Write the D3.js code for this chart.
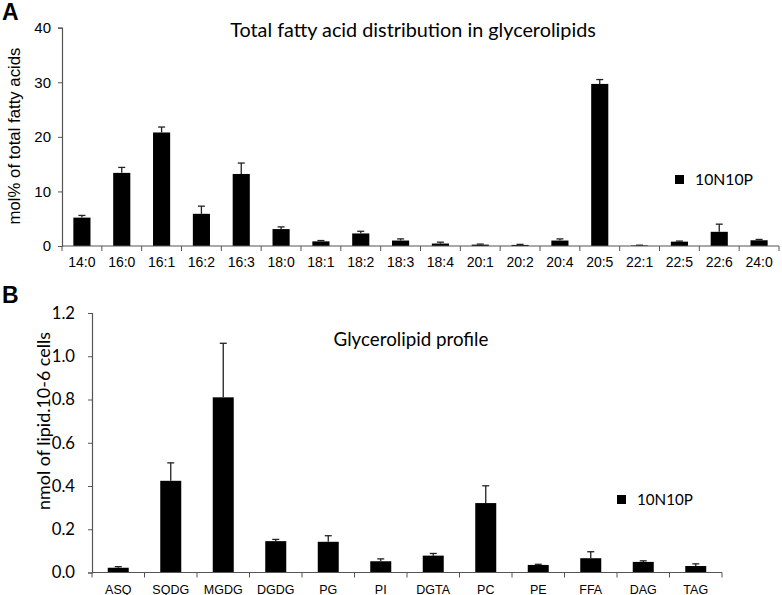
<!DOCTYPE html>
<html><head><meta charset="utf-8">
<script src="https://cdn.jsdelivr.net/npm/d3@7"></script>
<style>
html,body{margin:0;padding:0;background:#fff;}
svg{display:block;}
.arial{font-family:"Liberation Sans",Arial,sans-serif;}
.cal{font-family:Lato,"Noto Sans",sans-serif;}
</style></head><body>
<svg id="chart" width="782" height="595"></svg>
<script>
// ---- Data ----
const faCategories = ["14:0","16:0","16:1","16:2","16:3","18:0","18:1","18:2","18:3","18:4","20:1","20:2","20:4","20:5","22:1","22:5","22:6","24:0"];
const faValues = [5.2,13.4,20.8,5.9,13.2,3.1,0.85,2.3,1.0,0.45,0.25,0.2,1.0,29.7,0.1,0.8,2.6,1.05];
const faErrors = [0.4,1.0,1.0,1.4,2.0,0.4,0.15,0.4,0.3,0.25,0.1,0.1,0.3,0.8,0.05,0.1,1.4,0.15];
const faTicks = [0,10,20,30,40];

const lipidCategories = ["ASQ","SQDG","MGDG","DGDG","PG","PI","DGTA","PC","PE","FFA","DAG","TAG"];
const lipidValues = [0.022,0.424,0.81,0.145,0.142,0.052,0.078,0.321,0.035,0.066,0.049,0.030];
const lipidErrors = [0.005,0.083,0.25,0.008,0.028,0.011,0.010,0.080,0.003,0.030,0.005,0.010];
const lipidTicks = [0,0.2,0.4,0.6,0.8,1.0,1.2];

const seriesName = "10N10P";

const svg = d3.select("#chart");
const axisColor = "#555";

function fitWidth(sel, target){
  const base = parseFloat(sel.attr("font-size"));
  const len = sel.node().getComputedTextLength();
  sel.attr("font-size", base*target/len);
}
function fitAll(sel, sample, target){
  // scale a group of text elements by the ratio measured on one sample
  const base = parseFloat(sample.attr("font-size"));
  const len = sample.node().getComputedTextLength();
  sel.attr("font-size", base*target/len);
}

function panel(opts){
  const g = svg.append("g");
  const x = d3.scaleBand().domain(opts.cats).range(opts.xRange)
    .paddingInner(opts.pad).paddingOuter(opts.pad/2);
  const y = d3.scaleLinear().domain(opts.yDomain).range(opts.yRange);
  const y0 = y(0);

  // bars
  g.selectAll("rect.bar").data(opts.cats).enter().append("rect")
    .attr("x", d=>x(d)).attr("width", x.bandwidth())
    .attr("y", (d,i)=>y(opts.vals[i]))
    .attr("height", (d,i)=>y0 - y(opts.vals[i]))
    .attr("fill","#000");

  // error bars
  const eg = g.selectAll("g.err").data(opts.cats).enter().append("g");
  eg.append("line")
    .attr("x1", d=>x(d)+x.bandwidth()/2).attr("x2", d=>x(d)+x.bandwidth()/2)
    .attr("y1", (d,i)=>y(opts.vals[i])).attr("y2",(d,i)=>y(opts.vals[i]+opts.errs[i]))
    .attr("stroke","#222").attr("stroke-width",1.3);
  eg.append("line")
    .attr("x1", d=>x(d)+x.bandwidth()/2-3.5).attr("x2", d=>x(d)+x.bandwidth()/2+3.5)
    .attr("y1", (d,i)=>y(opts.vals[i]+opts.errs[i])).attr("y2",(d,i)=>y(opts.vals[i]+opts.errs[i]))
    .attr("stroke","#222").attr("stroke-width",1.3);

  // y axis
  const ya = g.append("g").attr("transform",`translate(${opts.xRange[0]},0)`)
    .call(d3.axisLeft(y).tickValues(opts.yTicks).tickFormat(opts.yFmt).tickSize(4).tickPadding(opts.yPad));
  ya.select(".domain").attr("stroke",axisColor).attr("stroke-width",1.2);
  ya.selectAll(".tick line").attr("stroke",axisColor);
  ya.selectAll(".tick text").attr("class",opts.yFont).attr("font-family",null)
    .attr("font-size",opts.ySize).attr("fill","#000");

  // x axis: ticks at band boundaries
  const xa = g.append("g").attr("transform",`translate(0,${y0})`);
  xa.append("line").attr("x1",opts.xRange[0]).attr("x2",opts.xRange[1])
    .attr("stroke",axisColor).attr("stroke-width",1.2);
  const step = x.step();
  const bounds = d3.range(opts.cats.length+1);
  xa.selectAll("line.tk").data(bounds).enter().append("line")
    .attr("x1",i=>opts.xRange[0]+i*step).attr("x2",i=>opts.xRange[0]+i*step)
    .attr("y1",0).attr("y2",5).attr("stroke",axisColor);
  xa.selectAll("text").data(opts.cats).enter().append("text")
    .attr("class","arial").attr("font-size",opts.xSize)
    .attr("x",d=>x(d)+x.bandwidth()/2).attr("y",opts.xLabY).attr("text-anchor","middle")
    .text(d=>d);

  // title
  const t = g.append("text").attr("class","cal").attr("font-size",20)
    .attr("x",opts.titleX).attr("y",opts.titleY).attr("text-anchor","middle").text(opts.title);
  fitWidth(t, opts.titleW);

  // y label
  const yl = g.append("text").attr("class",opts.ylFont).attr("font-size",16)
    .attr("transform",`translate(${opts.ylX},${opts.ylY}) rotate(-90)`)
    .attr("text-anchor","middle").attr("dominant-baseline","central").text(opts.ylabel);
  fitWidth(yl, opts.ylLen);

  // legend
  g.append("rect").attr("x",opts.legX).attr("y",opts.legY).attr("width",9).attr("height",9).attr("fill","#000");
  const lt = g.append("text").attr("class","cal").attr("font-size",18)
    .attr("x",opts.legX+20).attr("y",opts.legY+9.5).text(seriesName);
  fitWidth(lt, opts.legW);

  // panel letter
  g.append("text").attr("class","arial").attr("font-weight","bold").attr("font-size",23)
    .attr("x",opts.letX).attr("y",opts.letY).text(opts.letter);
  return ya;
}

const yaA = panel({
  cats: faCategories, vals: faValues, errs: faErrors,
  xRange:[62,779], pad:0.57, yDomain:[0,40], yRange:[246,27.7],
  yTicks: faTicks, yFmt: d3.format("d"), yFont:"arial", ySize:15, yPad:7,
  xSize:14, xLabY:21,
  title:"Total fatty acid distribution in glycerolipids", titleX:413, titleY:37, titleW:366,
  ylabel:"mol% of total fatty acids", ylFont:"arial", ylX:14.5, ylY:136, ylLen:177,
  legX:675, legY:175, legW:58, letter:"A", letX:2, letY:20
});

const yaB = panel({
  cats: lipidCategories, vals: lipidValues, errs: lipidErrors,
  xRange:[92,722], pad:0.6, yDomain:[0,1.2], yRange:[572.5,313],
  yTicks: lipidTicks, yFmt: d3.format(".1f"), yFont:"cal", ySize:17, yPad:13,
  xSize:12.5, xLabY:21,
  title:"Glycerolipid profile", titleX:411, titleY:346, titleW:155,
  ylabel:"nmol of lipid.10-6 cells", ylFont:"cal", ylX:43, ylY:421, ylLen:178,
  legX:617, legY:495, legW:56, letter:"B", letX:2, letY:303
});
// fit B y tick labels to measured width of "1.2"
const bTicks = yaB.selectAll(".tick text");
const sample = bTicks.filter(d=>d===1.2);
fitAll(bTicks, sample, 23.3);
</script>
</body></html>
